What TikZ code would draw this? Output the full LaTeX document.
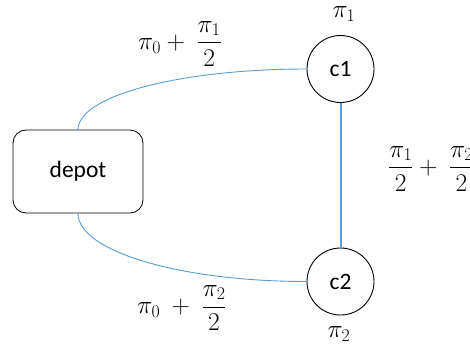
\RequirePackage{fix-cm}
\documentclass[tikz,border=0pt]{standalone}
\usepackage{amsmath}
\usepackage{fontspec}
\setmainfont{Carlito}
\usepackage{xcolor}
\usepackage{tikz}
\usetikzlibrary{positioning}
\definecolor{routeblue}{RGB}{91, 155, 213}

\begin{document}
\begin{tikzpicture}[x=1pt, y=-1pt,
    font=\fontsize{23.5}{28}\selectfont,
    depot/.style={rectangle, draw=black, thick, minimum width=130pt, minimum height=83pt, rounded corners=13pt},
    customer/.style={circle, draw=black, line width=0.9pt, minimum size=67pt, inner sep=0pt},
    dual/.style={inner sep=0pt, font=\fontsize{25.5}{30}\selectfont},
    route/.style={line width=0.9pt, color=routeblue}
]
    \useasboundingbox (0, 0) rectangle (470, 345);

    \node[depot] (dep) at (78, 171.5) {depot};
    \node[customer] (c1) at (340.5, 69) {c1};
    \node[customer] (c2) at (340.5, 281.5) {c2};

    \node[dual] (pione) at (344, 14) {$\pi_1$};
    \node[dual] (pitwo) at (339, 334) {$\pi_2$};
    \node[dual] (cdone) at (180, 44) {$\pi_0 +\ \dfrac{\pi_1}{2}$};
    \node[dual] (cdtwo) at (182, 308) {$\pi_0\ +\ \dfrac{\pi_2}{2}$};
    \node[dual, anchor=west] (cone) at (388, 169) {$\dfrac{\pi_1}{2} +\ \dfrac{\pi_2}{2}$};

    \draw[route] (dep.north) to[out=90, in=180, out distance=34pt, in distance=126pt] (c1.west);
    \draw[route] (dep.south) to[out=-90, in=180, out distance=38pt, in distance=126pt] (c2.west);
    \draw[route, line width=2pt] (c1) -- (c2);
\end{tikzpicture}
\end{document}
